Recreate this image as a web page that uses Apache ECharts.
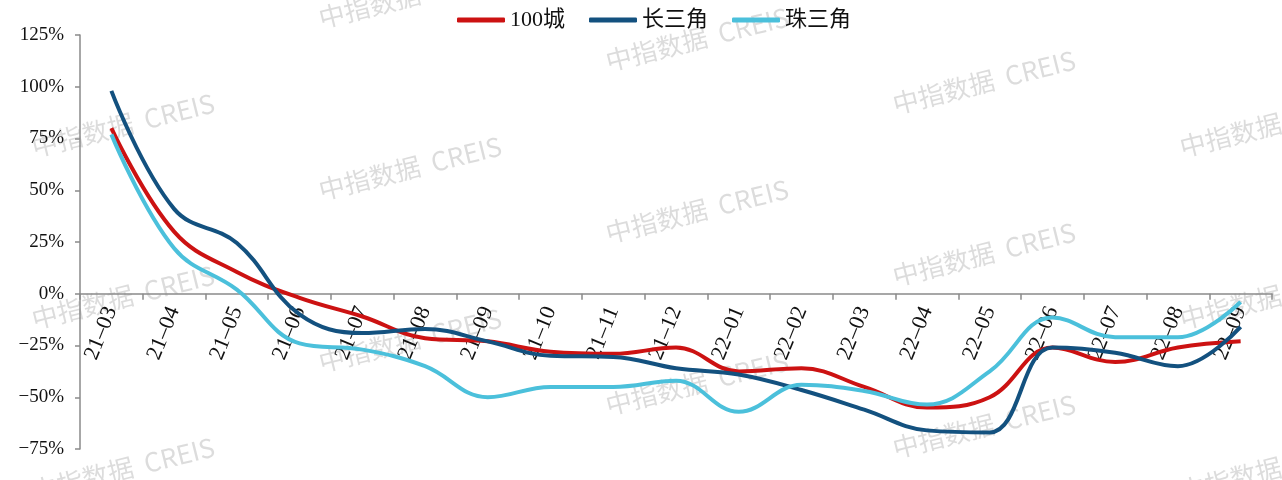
<!DOCTYPE html>
<html>
<head>
<meta charset="utf-8">
<script src="https://cdn.jsdelivr.net/npm/echarts@6/dist/echarts.min.js"></script>
<style>html,body{margin:0;padding:0;background:#fff}#c{width:1282px;height:480px}</style>
</head>
<body>
<div id="c"></div>
<script>
const categories = ['21-03','21-04','21-05','21-06','21-07','21-08','21-09','21-10','21-11','21-12','22-01','22-02','22-03','22-04','22-05','22-06','22-07','22-08','22-09'];
const city100 = [80, 30, 10.5, -2, -11, -21.5, -23, -28, -29, -26, -37.5, -36, -45, -55, -50, -26, -33, -26, -23];
const yangtze = [98, 41, 24.5, -10, -19, -17, -23, -30, -30.5, -36, -39, -46.5, -56, -66, -67, -26, -28.5, -35, -16];
const pearl = [77, 22, 2, -24, -27, -35, -50, -45, -45, -42, -57, -44, -47, -53.5, -37.5, -11.5, -21, -21, -4];
const seriesNames = ['100城', '长三角', '珠三角'];
const yTicks = { min: -75, max: 125, interval: 25 };

const chart = echarts.init(document.getElementById('c'), null, { renderer: 'canvas' });

const watermarks = [];
for (let c = 0; c < 5; c++) {
  for (let r = -1; r < 4; r++) {
    const cx = 123 + 287 * c;
    const cy = 125 + 43 * c + 172 * r;
    if (cy < -40 || cy > 530) continue;
    watermarks.push({
      type: 'text', x: cx, y: cy, rotation: 14 * Math.PI / 180, z: -10, silent: true,
      style: { text: '中指数据  CREIS', fill: 'rgba(150,150,150,0.33)', font: '26px "Noto Sans CJK SC", "Noto Sans", sans-serif', align: 'center', verticalAlign: 'middle' }
    });
  }
}

const serif = '"Liberation Serif", "Noto Sans CJK SC", serif';
const colors = ['#CC1212', '#13517F', '#4BC0DB'];
const datas = [city100, yangtze, pearl];

const gridTop = 35, gridBottom = 31, H = 480;
const plotH = H - gridTop - gridBottom;
const zeroOffset = -(0 - yTicks.min) / (yTicks.max - yTicks.min) * plotH;

chart.setOption({
  backgroundColor: '#ffffff',
  animation: false,
  color: colors,
  graphic: watermarks,
  legend: {
    left: 452, top: 4,
    itemWidth: 48, itemHeight: 5, itemGap: 24,
    icon: 'roundRect',
    textStyle: { fontFamily: serif, fontSize: 22, color: '#111' },
    data: seriesNames
  },
  grid: { left: 80, right: 10, top: gridTop, bottom: gridBottom, containLabel: false, outerBoundsMode: 'none' },
  xAxis: {
    type: 'category',
    data: categories,
    boundaryGap: true,
    offset: zeroOffset,
    axisLine: { onZero: false, lineStyle: { color: '#8a8a8a', width: 1.5 } },
    axisTick: { show: true, length: 6, inside: false, lineStyle: { color: '#8a8a8a', width: 1.5 } },
    axisLabel: { interval: 0, rotate: 68, margin: 14, fontFamily: serif, fontSize: 22, color: '#111',
      formatter: s => s.replace('-', '\u2013') },
    splitLine: { show: false }
  },
  yAxis: {
    type: 'value',
    min: yTicks.min, max: yTicks.max, interval: yTicks.interval,
    axisLine: { show: true, lineStyle: { color: '#8a8a8a', width: 1.5 } },
    axisTick: { show: true, length: 5, lineStyle: { color: '#8a8a8a', width: 1.5 } },
    axisLabel: { margin: 16, fontFamily: serif, fontSize: 19, color: '#111',
      formatter: v => (v < 0 ? '\u2212' : '') + Math.abs(v) + '%' },
    splitLine: { show: false }
  },
  series: seriesNames.map((n, i) => ({
    name: n, type: 'line', data: datas[i], smooth: 0.4,
    showSymbol: false, symbol: 'none',
    lineStyle: { width: 4, color: colors[i] },
    itemStyle: { color: colors[i] }
  }))
});
</script>
</body>
</html>
